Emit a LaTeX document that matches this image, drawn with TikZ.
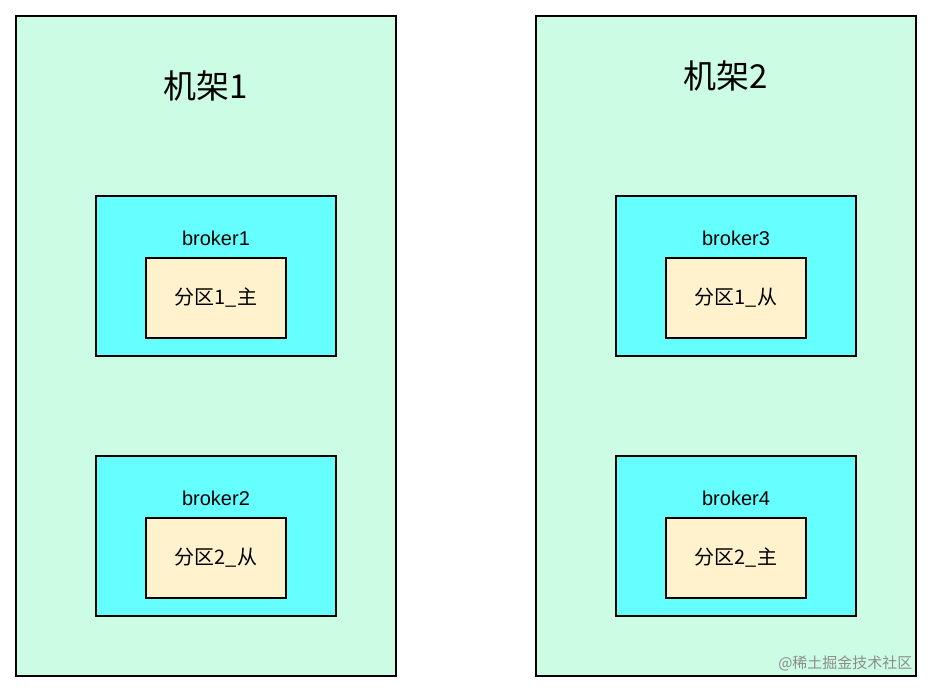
\documentclass[tikz,border=0pt]{standalone}
\usepackage{fontspec}
\setmainfont{Liberation Sans}
\newfontfamily\cjk{Noto Sans CJK SC}
\usetikzlibrary{positioning}
\definecolor{rackfill}{HTML}{CCFCE4}
\definecolor{brokerfill}{HTML}{66FFFF}
\definecolor{partfill}{HTML}{FFF2CC}
\tikzstyle{rack} = [draw=black, line width=1.3pt, fill=rackfill, minimum width=380pt, minimum height=660pt, inner sep=0pt]
\tikzstyle{broker} = [draw=black, line width=1.3pt, fill=brokerfill, minimum width=240pt, minimum height=160pt, inner sep=0pt]
\tikzstyle{part} = [draw=black, line width=1.3pt, fill=partfill, minimum width=140pt, minimum height=80pt, inner sep=0pt, font=\cjk\fontsize{20}{24}\selectfont]
\tikzstyle{blabel} = [font=\fontsize{20}{24}\selectfont]
\tikzstyle{title} = [font=\cjk\fontsize{33}{38}\selectfont]

\begin{document}
\begin{tikzpicture}[x=1pt,y=-1pt]
    \useasboundingbox (0,0) rectangle (934,694);
    \node[rack] (rack1) at (206,346) {};
    \node[rack] (rack2) at (726,346) {};
    \node[title] (title1) at (206,86) {机架1};
    \node[title] (title2) at (726,76) {机架2};

    \node[broker] (broker1) at (216,276) {};
    \node[broker] (broker2) at (216,536) {};
    \node[broker] (broker3) at (736,276) {};
    \node[broker] (broker4) at (736,536) {};

    \node[blabel] (b1) at (216,238) {broker1};
    \node[blabel] (b2) at (216,498) {broker2};
    \node[blabel] (b3) at (736,238) {broker3};
    \node[blabel] (b4) at (736,498) {broker4};

    \node[part] (p1) at (216,298) {分区1\_主};
    \node[part] (p2) at (216,558) {分区2\_从};
    \node[part] (p3) at (736,298) {分区1\_从};
    \node[part] (p4) at (736,558) {分区2\_主};

    \node[font=\cjk\fontsize{15}{18}\selectfont, text=black!45, anchor=east] (mark) at (916,663) {@稀土掘金技术社区};
\end{tikzpicture}
\end{document}
